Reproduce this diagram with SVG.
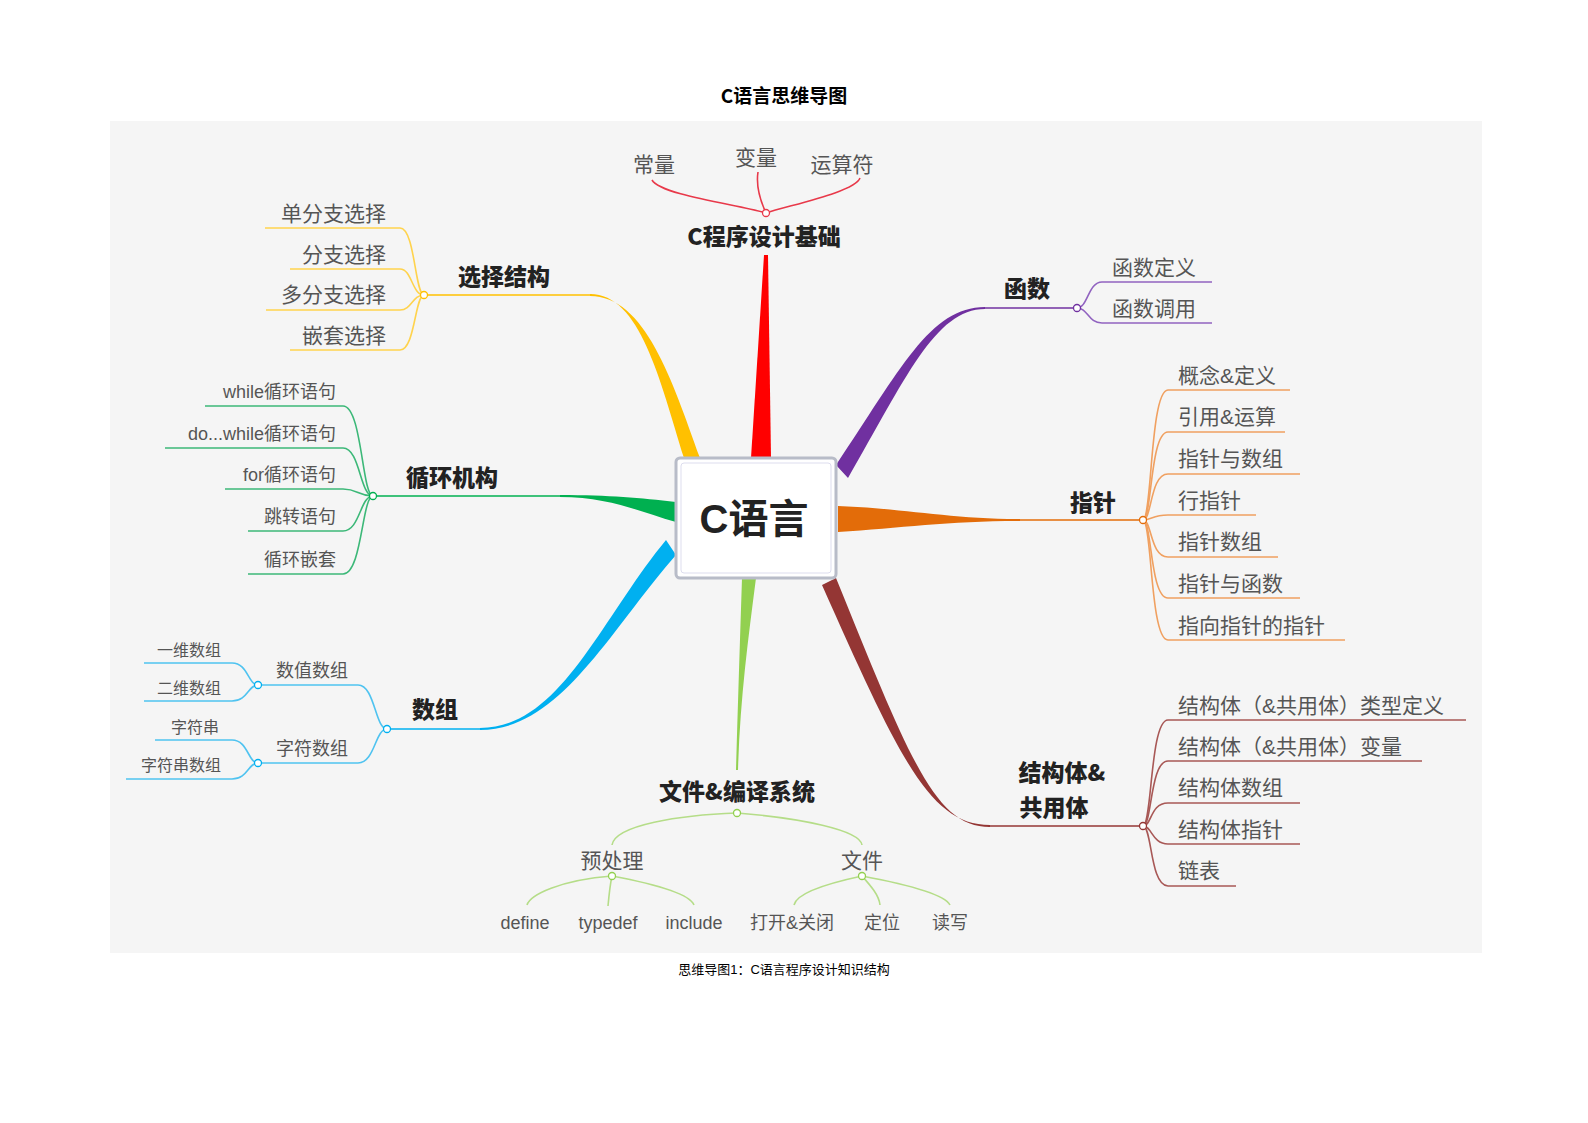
<svg xmlns="http://www.w3.org/2000/svg" width="1588" height="1123" viewBox="0 0 1588 1123">
<style>
text{font-family:"Liberation Sans","Noto Sans CJK SC",sans-serif;}
.t{font-family:"Noto Sans CJK SC",sans-serif;font-weight:bold;fill:#000;}
.main{font-family:"Noto Sans CJK SC",sans-serif;font-weight:900;fill:#222;font-size:23px;text-anchor:middle;}
.leaf{font-family:"Liberation Sans","Noto Sans CJK SC",sans-serif;fill:#555;font-size:21px;}
.sm{font-size:18px;}
.xs{font-size:16px;}
.r{text-anchor:end;}
.m{text-anchor:middle;}
.ln{fill:none;stroke-width:1.6;}
.hub{fill:#fff;stroke-width:1.3;}
</style>
<rect x="0" y="0" width="1588" height="1123" fill="#fff"/>
<text class="t" x="784" y="103" font-size="19" text-anchor="middle">C语言思维导图</text>
<rect x="110" y="121" width="1372" height="832" fill="#f5f5f5"/>
<text x="784" y="974" font-size="13" text-anchor="middle" font-family="Noto Sans CJK SC,sans-serif" fill="#000">思维导图1：C语言程序设计知识结构</text>

<g id="connectors">
<path d="M764,255 L768,255 L771,458 L751,458 Z" fill="#ff0000"/>
<path d="M590,294 C640,294 660,380 684,458 L700,458 C672,380 645,296 590,296 Z" fill="#ffc000"/>
<path class="ln" d="M424,295 L592,295" stroke="#ffc000" stroke-width="2"/>
<path d="M985,307 C930,307 900,370 836,465 L848,478 C905,380 935,309 985,309 Z" fill="#7030a0"/>
<path class="ln" d="M984,308 L1077,308" stroke="#7030a0" stroke-width="2"/>
<path d="M1020,519 C950,519 900,508 838,506 L838,532 C900,528 950,521 1020,521 Z" fill="#e36c09"/>
<path class="ln" d="M1018,520 L1143,520" stroke="#e36c09" stroke-width="2"/>
<path d="M560,495 C610,495 640,498 676,502 L676,522 C640,512 610,497 560,497 Z" fill="#00b050"/>
<path class="ln" d="M373,496 L562,496" stroke="#00b050" stroke-width="2"/>
<path d="M480,728 C560,728 600,620 666,540 L676,555 C610,630 560,730 480,730 Z" fill="#00b0f0"/>
<path class="ln" d="M387,729 L482,729" stroke="#00b0f0" stroke-width="2"/>
<path d="M736,770 C738,700 740,640 742,578 L756,578 C748,640 740,700 738,770 Z" fill="#92d050"/>
<path d="M990,825 C930,825 900,760 822,585 L836,578 C910,760 935,827 990,827 Z" fill="#943634"/>
<path class="ln" d="M988,826 L1143,826" stroke="#943634" stroke-width="2"/>

<g stroke="#e8394a" class="ln">
<path d="M766,213 C740,205 660,195 652,180"/>
<path d="M766,213 C760,200 756,185 758,172"/>
<path d="M766,213 C790,205 855,192 860,178"/>
</g>
<g stroke="#ffd34d" class="ln">
<path d="M265,228 L400,228 C415,228 415,295 424,295"/>
<path d="M290,269 L400,269 C412,269 412,295 424,295"/>
<path d="M266,310 L400,310 C412,310 412,295 424,295"/>
<path d="M290,350 L400,350 C415,350 415,295 424,295"/>
</g>
<g stroke="#3cb878" class="ln">
<path d="M205,406 L343,406 C362,406 362,496 373,496"/>
<path d="M165,448 L343,448 C360,448 360,496 373,496"/>
<path d="M225,489 L343,489 C358,489 358,496 373,496"/>
<path d="M248,531 L343,531 C360,531 360,496 373,496"/>
<path d="M248,574 L343,574 C362,574 362,496 373,496"/>
</g>
<g stroke="#4fc3f0" class="ln">
<path d="M258,685 L358,685 C375,685 375,729 387,729"/>
<path d="M258,763 L358,763 C375,763 375,729 387,729"/>
<path d="M144,663 L232,663 C248,663 248,685 258,685"/>
<path d="M144,701 L232,701 C248,701 248,685 258,685"/>
<path d="M155,740 L232,740 C248,740 248,763 258,763"/>
<path d="M126,779 L232,779 C248,779 248,763 258,763"/>
</g>
<g stroke="#9163c0" class="ln">
<path d="M1077,308 C1088,308 1088,282 1102,282 L1212,282"/>
<path d="M1077,308 C1088,308 1088,323 1102,323 L1212,323"/>
</g>
<g stroke="#f0a060" class="ln">
<path d="M1143,520 C1152,520 1150,390 1168,390 L1290,390"/>
<path d="M1143,520 C1152,520 1150,432 1168,432 L1285,432"/>
<path d="M1143,520 C1152,520 1150,474 1168,474 L1300,474"/>
<path d="M1143,520 C1152,520 1152,515 1168,515 L1256,515"/>
<path d="M1143,520 C1152,520 1150,557 1168,557 L1278,557"/>
<path d="M1143,520 C1152,520 1150,598 1168,598 L1300,598"/>
<path d="M1143,520 C1152,520 1150,640 1168,640 L1345,640"/>
</g>
<g stroke="#a85856" class="ln">
<path d="M1143,826 C1152,826 1150,720 1168,720 L1466,720"/>
<path d="M1143,826 C1152,826 1150,761 1168,761 L1422,761"/>
<path d="M1143,826 C1152,826 1150,803 1168,803 L1300,803"/>
<path d="M1143,826 C1152,826 1152,844 1168,844 L1300,844"/>
<path d="M1143,826 C1152,826 1150,886 1168,886 L1236,886"/>
</g>
<g stroke="#b5dd88" class="ln">
<path d="M737,813 C680,815 615,825 612,845"/>
<path d="M737,813 C800,818 860,830 862,845"/>
<path d="M612,876 C560,880 530,895 527,905"/>
<path d="M612,876 C610,885 609,895 608,906"/>
<path d="M612,876 C660,885 690,895 694,905"/>
<path d="M862,876 C820,885 796,895 794,905"/>
<path d="M862,876 C870,885 879,895 880,905"/>
<path d="M862,876 C910,885 945,895 950,905"/>
</g>
<g class="hub">
<circle cx="766" cy="213" r="3.5" stroke="#e8394a"/>
<circle cx="424" cy="295" r="3.5" stroke="#ffc000"/>
<circle cx="373" cy="496" r="3.5" stroke="#00b050"/>
<circle cx="387" cy="729" r="3.5" stroke="#00b0f0"/>
<circle cx="258" cy="685" r="3.5" stroke="#00b0f0"/>
<circle cx="258" cy="763" r="3.5" stroke="#00b0f0"/>
<circle cx="1077" cy="308" r="3.5" stroke="#7030a0"/>
<circle cx="1143" cy="520" r="3.5" stroke="#e36c09"/>
<circle cx="1143" cy="826" r="3.5" stroke="#943634"/>
<circle cx="737" cy="813" r="3.5" stroke="#92d050"/>
<circle cx="612" cy="876" r="3.5" stroke="#92d050"/>
<circle cx="862" cy="876" r="3.5" stroke="#92d050"/>
</g>
</g>

<g id="center">
<rect x="676" y="458" width="160" height="120" rx="4" fill="#fff" stroke="#b8bcc8" stroke-width="3"/>
<rect x="681" y="463" width="150" height="110" rx="3" fill="none" stroke="#dde" stroke-width="1"/>
<text x="754" y="533" font-size="40" font-weight="bold" text-anchor="middle" font-family="Noto Sans CJK SC,sans-serif" fill="#222">C语言</text>
</g>
<g id="n-basic"><text class="main" x="764" y="245">C程序设计基础</text>
<text class="leaf m" x="654" y="172">常量</text><text class="leaf m" x="756" y="165">变量</text><text class="leaf m" x="842" y="172">运算符</text></g>
<g id="n-select"><text class="main" x="504" y="285">选择结构</text>
<text class="leaf r" x="386" y="221">单分支选择</text><text class="leaf r" x="386" y="262">分支选择</text><text class="leaf r" x="386" y="302">多分支选择</text><text class="leaf r" x="386" y="343">嵌套选择</text></g>
<g id="n-loop"><text class="main" x="452" y="486">循环机构</text>
<text class="leaf sm r" x="336" y="398">while循环语句</text><text class="leaf sm r" x="336" y="440">do...while循环语句</text><text class="leaf sm r" x="336" y="481">for循环语句</text><text class="leaf sm r" x="336" y="523">跳转语句</text><text class="leaf sm r" x="336" y="566">循环嵌套</text></g>
<g id="n-array"><text class="main" x="435" y="718">数组</text>
<text class="leaf sm m" x="312" y="677">数值数组</text><text class="leaf sm m" x="312" y="755">字符数组</text>
<text class="leaf xs r" x="221" y="656">一维数组</text><text class="leaf xs r" x="221" y="694">二维数组</text><text class="leaf xs r" x="219" y="733">字符串</text><text class="leaf xs r" x="221" y="771">字符串数组</text></g>
<g id="n-func"><text class="main" x="1027" y="297">函数</text>
<text class="leaf" x="1112" y="275">函数定义</text><text class="leaf" x="1112" y="316">函数调用</text></g>
<g id="n-ptr"><text class="main" x="1093" y="511">指针</text>
<text class="leaf" x="1178" y="383">概念&amp;定义</text><text class="leaf" x="1178" y="424">引用&amp;运算</text><text class="leaf" x="1178" y="466">指针与数组</text><text class="leaf" x="1178" y="508">行指针</text><text class="leaf" x="1178" y="549">指针数组</text><text class="leaf" x="1178" y="591">指针与函数</text><text class="leaf" x="1178" y="633">指向指针的指针</text></g>
<g id="n-struct"><text class="main" x="1062" y="781">结构体&amp;</text><text class="main" x="1054" y="816">共用体</text>
<text class="leaf" x="1178" y="713">结构体（&amp;共用体）类型定义</text><text class="leaf" x="1178" y="754">结构体（&amp;共用体）变量</text><text class="leaf" x="1178" y="795">结构体数组</text><text class="leaf" x="1178" y="837">结构体指针</text><text class="leaf" x="1178" y="878">链表</text></g>
<g id="n-file"><text class="main" x="737" y="800">文件&amp;编译系统</text>
<text class="leaf m" x="612" y="868">预处理</text><text class="leaf m" x="862" y="868">文件</text>
<text class="leaf sm m" x="525" y="929">define</text><text class="leaf sm m" x="608" y="929">typedef</text><text class="leaf sm m" x="694" y="929">include</text><text class="leaf sm m" x="792" y="929">打开&amp;关闭</text><text class="leaf sm m" x="882" y="929">定位</text><text class="leaf sm m" x="950" y="929">读写</text></g>
</svg>
